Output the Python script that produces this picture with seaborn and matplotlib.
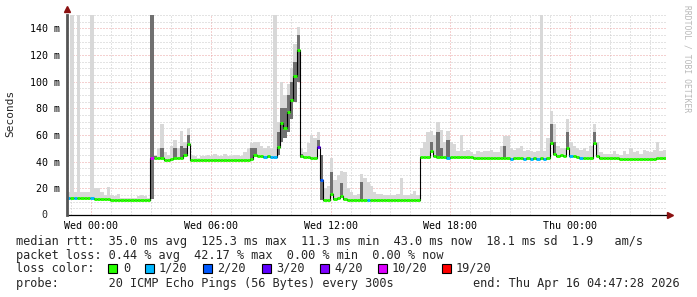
import numpy as np
import matplotlib
matplotlib.use("Agg")
import matplotlib.pyplot as plt
import seaborn as sns
from matplotlib.patches import Rectangle

# ---------------- data (one sample every 10 minutes, hours relative to Wed 00:00) -------------
start_hour = -1.2
samples_per_hour = 6

median_ms = [
    13, 13, 13, 12.5, 12.5, 12.5,
    12.5, 12.5, 12, 12, 12, 11.8,
    11.8, 11.5, 11.5, 11.5, 11.3, 11.3,
    11.3, 11.3, 11.3, 11.3, 11.5, 11.5,
    11.5, 43, 43, 43, 42.5, 41.5,
    41.5, 42, 42.5, 43, 43, 45,
    53, 41.5, 41.5, 41.5, 41.5, 41.5,
    41.5, 41.5, 41.5, 41.5, 41.5, 41.5,
    41.5, 41.5, 41.5, 41.5, 41.5, 41.5,
    41.5, 42, 45, 44, 44, 43.5,
    44, 43.5, 43.5, 51, 69, 65,
    77, 86, 104, 124, 44, 43.5,
    43.5, 43, 42.5, 51, 26, 11.5,
    11.5, 16, 12, 12.5, 14, 12,
    11.5, 11.5, 11.3, 11.3, 11.5, 11.5,
    11.5, 11.5, 11.5, 11.3, 11.3, 11.3,
    11.3, 11.5, 11.5, 11.5, 11.5, 11.5,
    11.5, 11.5, 11.5, 11.5, 43.5, 43.5,
    43.5, 48, 44, 43.5, 43.5, 43.5,
    43, 43.5, 43.5, 43.5, 43.5, 43.5,
    43.5, 43.5, 43, 43, 43, 43,
    43, 43, 43, 42.5, 42.5, 42.5,
    42.5, 42, 42.5, 42.5, 42.5, 42,
    42.5, 42, 42.5, 42, 43, 42,
    43, 54, 46, 44.5, 45, 44.5,
    50, 44.5, 44, 43.5, 43, 43,
    43, 43, 54, 44, 43, 42.5,
    42.5, 42.5, 42.5, 42.5, 42, 42,
    42, 42, 42, 42, 42, 42,
    42, 42, 42, 42.5, 42.5, 42.5,
]

smoke_max_ms = [
    17, 150, 17, 150, 17, 17,
    17, 150, 20, 20, 17, 15,
    21, 15, 14, 16, 13, 13,
    13, 13, 13, 14, 15, 14,
    13, 150, 45, 50, 68, 47,
    45, 52, 56, 50, 63, 55,
    65, 45, 44, 43, 44, 44,
    45, 44, 46, 44, 44, 46,
    44, 44, 45, 45, 44, 47,
    50, 54, 55, 55, 52, 50,
    52, 50, 150, 70, 100, 90,
    98, 110, 128, 141, 50, 47,
    54, 60, 58, 62, 45, 20,
    22, 43, 26, 30, 33, 32,
    20, 17, 15, 16, 31, 28,
    25, 22, 17, 16, 16, 15,
    15, 15, 15, 16, 28, 15,
    15, 16, 18, 15, 50, 55,
    62, 63, 60, 70, 64, 55,
    63, 55, 53, 48, 60, 48,
    49, 47, 46, 48, 47, 48,
    48, 49, 47, 47, 52, 59,
    59, 50, 49, 50, 52, 48,
    49, 48, 47, 48, 150, 48,
    58, 78, 68, 52, 50, 50,
    72, 55, 52, 50, 49, 50,
    48, 52, 68, 55, 47, 46,
    46, 46, 48, 46, 45, 48,
    46, 50, 47, 48, 46, 49,
    48, 47, 49, 55, 48, 49,
]

# darker smoke (inner pings) where it stands out: sample index -> top value (ms)
smoke_dark_ms = {25: 150, 26: 44, 28: 50, 32: 50, 34: 52, 35: 50, 36: 60, 55: 50, 56: 50,
                 63: 62, 64: 80, 65: 80, 66: 90, 67: 100, 68: 115, 69: 135, 70: 46,
                 75: 56, 76: 45, 79: 32, 82: 24, 88: 25, 109: 55, 111: 62, 112: 50,
                 114: 56, 131: 52, 145: 68, 146: 55, 150: 62, 158: 62}
# smoke reaching below the median: sample index -> lowest value (ms)
smoke_low_ms = {25: 12, 63: 45, 64: 55, 65: 58, 66: 62, 67: 72, 68: 85, 69: 100,
                70: 43, 76: 11.5}
# packet loss (x/20) where not zero
loss_20 = {0: 1, 2: 1, 7: 1, 25: 10, 59: 1, 61: 1, 62: 1, 75: 3, 76: 2, 90: 1, 114: 1,
           133: 1, 137: 1, 139: 1, 141: 1, 143: 1, 151: 1, 154: 1}

loss_levels = ["0", "1/20", "2/20", "3/20", "4/20", "10/20", "19/20"]
loss_colors = ["#26ff00", "#00b8ff", "#0059ff", "#5e00ff", "#7e00ff", "#dd00ff", "#ff0000"]
loss_color_of = {0: "#26ff00", 1: "#00b8ff", 2: "#0059ff", 3: "#5e00ff", 4: "#7e00ff",
                 10: "#dd00ff", 19: "#ff0000"}

x_tick_hours = [0, 6, 12, 18, 24]
x_tick_labels = ["Wed 00:00", "Wed 06:00", "Wed 12:00", "Wed 18:00", "Thu 00:00"]
y_tick_values = [20, 40, 60, 80, 100, 120, 140]

stat_lines = [
    "median rtt:  35.0 ms avg  125.3 ms max  11.3 ms min  43.0 ms now  18.1 ms sd  1.9   am/s",
    "packet loss: 0.44 % avg  42.17 % max  0.00 % min  0.00 % now",
]
probe_text = "probe:       20 ICMP Echo Pings (56 Bytes) every 300s"
end_text = "end: Thu Apr 16 04:47:28 2026"

# ---------------- drawing -------------
sns.set_style("white")
plt.rcParams["font.family"] = ["DejaVu Sans Mono", "DejaVu Sans"]

W, H = 697, 297
fig = plt.figure(figsize=(W / 100, H / 100), dpi=100)
fig.patch.set_facecolor("white")
ax = fig.add_axes([67 / W, 1 - 215 / H, 599 / W, 200 / H])

n = len(median_ms)
med = np.array(median_ms, dtype=float)
hi = np.array(smoke_max_ms, dtype=float)
lo = med.copy()
for k, v in smoke_low_ms.items():
    lo[k] = v
dark = med.copy()
for k, v in smoke_dark_ms.items():
    dark[k] = v
edges = start_hour + np.arange(n + 1) / samples_per_hour
ext = lambda a: np.append(a, a[-1])

ax.fill_between(edges, ext(lo), ext(hi), step="post", color="#d8d8d8", lw=0, zorder=2)
ax.fill_between(edges, ext(lo), ext(dark), step="post", color="#707070", lw=0, zorder=3)

sns.lineplot(x=edges, y=ext(med), drawstyle="steps-post", color="black", lw=0.8,
             ax=ax, zorder=4, legend=False)
cols = [loss_color_of[loss_20.get(i, 0)] for i in range(n)]
ax.hlines(med, edges[:-1], edges[1:], colors=cols, lw=2.1, zorder=5)

ax.set_xlim(start_hour, edges[-1])
ax.set_ylim(0, 150)
ax.set_xticks(x_tick_hours)
ax.set_xticklabels(x_tick_labels)
ax.set_xticks(np.arange(-1, 29), minor=True)
ax.set_yticks([0] + y_tick_values)
ax.set_yticklabels([""] + [f"{v} m" for v in y_tick_values])
ax.set_yticks(np.arange(0, 151, 5), minor=True)
ax.tick_params(axis="both", which="both", length=0, labelsize=7.2, colors="black")
ax.tick_params(axis="x", pad=4)
ax.tick_params(axis="y", pad=5)
ax.text(44.5 / W, 1 - 215 / H, "0", transform=fig.transFigure, ha="center", va="center",
        fontsize=7.2)

ax.set_axisbelow(True)
ax.grid(which="minor", color="#c8c8c8", linestyle=(0, (1, 2)), lw=0.72)
ax.grid(which="major", color="#eaa3a3", linestyle=(0, (1, 2)), lw=0.72)
for s in ["top", "right"]:
    ax.spines[s].set_visible(False)
ax.spines["bottom"].set_color("black")
ax.spines["bottom"].set_linewidth(0.9)
ax.spines["left"].set_color("#555555")
ax.spines["left"].set_linewidth(2.0)
ax.spines["left"].set_zorder(6)

# axis arrows
ax.plot([0], [1.03], marker="^", color="#8b1010", ms=4.5, transform=ax.transAxes,
        clip_on=False)
ax.plot([1.007], [0], marker=">", color="#8b1010", ms=4.5, transform=ax.transAxes,
        clip_on=False)

fig.text(10 / W, 1 - 113 / H, "Seconds", rotation=90, ha="center", va="center", fontsize=8)
fig.text(687 / W, 1 - 5 / H, "RRDTOOL / TOBI OETIKER", rotation=270, ha="center",
         va="top", fontsize=5.8, color="#b8b8b8")

fs = 8.55
fig.text(16 / W, 1 - 241 / H, stat_lines[0], ha="left", va="center", fontsize=fs)
fig.text(16 / W, 1 - 255 / H, stat_lines[1], ha="left", va="center", fontsize=fs)
fig.text(16 / W, 1 - 268 / H, "loss color:", ha="left", va="center", fontsize=fs)
sq_x = [108, 145, 203, 262, 320, 378, 442]
lab_x = [123, 159, 217, 276, 334, 392, 456]
for sx, lx, c, lab in zip(sq_x, lab_x, loss_colors, loss_levels):
    fig.patches.append(Rectangle((sx / W, 1 - 272.5 / H), 8.5 / W, 8.5 / H,
                                 transform=fig.transFigure, facecolor=c,
                                 edgecolor="black", lw=0.8))
    fig.text(lx / W, 1 - 268 / H, lab, ha="left", va="center", fontsize=fs)
fig.text(16 / W, 1 - 283 / H, probe_text, ha="left", va="center", fontsize=fs)
fig.text(680 / W, 1 - 283 / H, end_text, ha="right", va="center", fontsize=fs)

fig.savefig("out.png", dpi=100, facecolor="white")
